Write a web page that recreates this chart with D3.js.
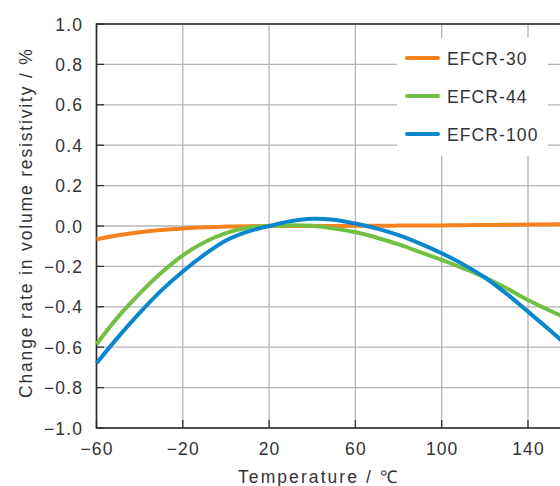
<!DOCTYPE html>
<html>
<head>
<meta charset="utf-8">
<script src="https://cdn.jsdelivr.net/npm/d3@7"></script>
<style>
  body { margin: 0; background: #fff; }
  svg { display: block; font-family: "Liberation Sans", Arial, sans-serif; }
  .lbl { fill: #333; font-size: 17.5px; letter-spacing: 1.1px; }
</style>
</head>
<body>
<svg width="560" height="486"></svg>
<script>
// Data
var temps  = [-60, -50, -40, -30, -20, -10, 0, 10, 20, 30, 40, 50, 60, 70, 80, 90, 100, 110, 120, 130, 140, 150, 156];
var efcr30 = [-0.066, -0.046, -0.031, -0.020, -0.012, -0.006, -0.003, -0.001, 0, 0, 0, 0, 0.001, 0.001, 0.002, 0.002, 0.003, 0.004, 0.005, 0.006, 0.007, 0.008, 0.009];
var efcr44 = [-0.585, -0.45, -0.335, -0.232, -0.145, -0.08, -0.035, -0.009, 0, 0.004, 0.001, -0.012, -0.031, -0.058, -0.091, -0.129, -0.168, -0.21, -0.255, -0.308, -0.366, -0.418, -0.447];
var efcr100 = [-0.68, -0.55, -0.43, -0.32, -0.225, -0.142, -0.072, -0.028, 0, 0.024, 0.036, 0.031, 0.012, -0.013, -0.045, -0.087, -0.135, -0.19, -0.255, -0.335, -0.424, -0.515, -0.572];

var seriesNames = ['EFCR-30', 'EFCR-44', 'EFCR-100'];
var seriesColors = ['#f5821f', '#72c043', '#0a86cf'];
var seriesValues = [efcr30, efcr44, efcr100];

var xTicks = [-60, -20, 20, 60, 100, 140];
var yTicks = [1.0, 0.8, 0.6, 0.4, 0.2, 0.0, -0.2, -0.4, -0.6, -0.8, -1.0];

var svg = d3.select('svg');

var plot = {l: 96.5, t: 24, b: 428};
var xScale = d3.scaleLinear().domain([-60, 160]).range([plot.l, plot.l + 220 * 2.1575]);
var yScale = d3.scaleLinear().domain([-1, 1]).range([plot.b, plot.t]);
plot.r = xScale(160);

function fmtY(v) {
    var s = Math.abs(v).toFixed(1);
    return (v < -1e-9 ? '\u2212' : '') + s;
}
function fmtX(v) {
    return (v < 0 ? '\u2212' : '') + Math.abs(v);
}

// gridlines
svg.append('g').selectAll('line')
    .data(yTicks)
    .enter().append('line')
    .attr('x1', plot.l).attr('x2', plot.r)
    .attr('y1', function(d){ return yScale(d); })
    .attr('y2', function(d){ return yScale(d); })
    .attr('stroke', '#b3b3b3').attr('stroke-width', 1.3);

svg.append('g').selectAll('line')
    .data(xTicks)
    .enter().append('line')
    .attr('x1', function(d){ return xScale(d); })
    .attr('x2', function(d){ return xScale(d); })
    .attr('y1', plot.t).attr('y2', plot.b)
    .attr('stroke', '#b3b3b3').attr('stroke-width', 1.3);

// inner tick marks
svg.append('g').selectAll('line')
    .data(yTicks)
    .enter().append('line')
    .attr('x1', plot.l).attr('x2', plot.l + 7.5)
    .attr('y1', function(d){ return yScale(d); })
    .attr('y2', function(d){ return yScale(d); })
    .attr('stroke', '#333').attr('stroke-width', 1.3);

svg.append('g').selectAll('line')
    .data(xTicks)
    .enter().append('line')
    .attr('x1', function(d){ return xScale(d); })
    .attr('x2', function(d){ return xScale(d); })
    .attr('y1', plot.b).attr('y2', plot.b - 8)
    .attr('stroke', '#333').attr('stroke-width', 1.3);

// frame
svg.append('path')
    .attr('d', 'M' + plot.r + ',' + plot.t + 'H' + plot.l + 'V' + plot.b + 'H' + plot.r)
    .attr('fill', 'none').attr('stroke', '#2a2a2a').attr('stroke-width', 1.6);

// tick labels
svg.append('g').selectAll('text')
    .data(yTicks)
    .enter().append('text')
    .attr('class', 'lbl')
    .attr('x', 83)
    .attr('y', function(d){ return yScale(d) + 6.5; })
    .attr('text-anchor', 'end')
    .text(fmtY);

svg.append('g').selectAll('text')
    .data(xTicks)
    .enter().append('text')
    .attr('class', 'lbl')
    .attr('x', function(d){ return xScale(d) + 0.5; })
    .attr('y', 455)
    .attr('text-anchor', 'middle')
    .text(fmtX);

// axis titles
svg.append('text')
    .attr('class', 'lbl')
    .attr('x', 238).attr('y', 483)
    .attr('textLength', 160)
    .attr('lengthAdjust', 'spacing')
    .text('Temperature / \u2103');

svg.append('text')
    .attr('class', 'lbl')
    .attr('transform', 'translate(32,398)rotate(-90)')
    .attr('textLength', 350)
    .attr('lengthAdjust', 'spacing')
    .text('Change rate in volume resistivity / %');

// curves
var line = d3.line()
    .x(function(d){ return xScale(d[0]); })
    .y(function(d){ return yScale(d[1]); })
    .curve(d3.curveCatmullRom);

svg.append('g').selectAll('path')
    .data(seriesValues)
    .enter().append('path')
    .attr('d', function(vals){ return line(temps.map(function(t, i){ return [t, vals[i]]; })); })
    .attr('fill', 'none')
    .attr('stroke', function(d, i){ return seriesColors[i]; })
    .attr('stroke-width', 4);

// legend
var legend = svg.append('g');
legend.append('rect')
    .attr('x', 397).attr('y', 38).attr('width', 151).attr('height', 118)
    .attr('fill', '#fff');

var legendY = [58, 96, 134];
var items = legend.selectAll('g')
    .data(seriesNames)
    .enter().append('g');
items.append('line')
    .attr('x1', 407).attr('x2', 438)
    .attr('y1', function(d, i){ return legendY[i]; })
    .attr('y2', function(d, i){ return legendY[i]; })
    .attr('stroke', function(d, i){ return seriesColors[i]; })
    .attr('stroke-width', 4)
    .attr('stroke-linecap', 'round');
items.append('text')
    .attr('class', 'lbl')
    .attr('x', 447)
    .attr('y', function(d, i){ return legendY[i] + 6.5; })
    .text(function(d){ return d; });
</script>
</body>
</html>
